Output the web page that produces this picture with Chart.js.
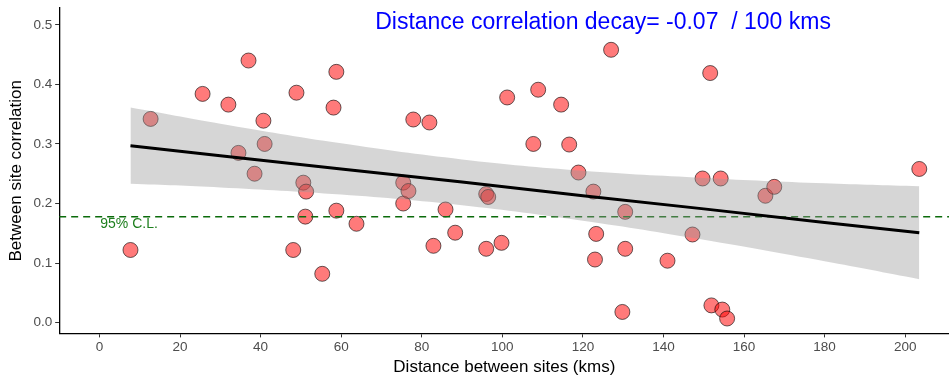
<!DOCTYPE html>
<html>
<head>
<meta charset="utf-8">
<script src="https://cdn.jsdelivr.net/npm/chart.js@4.4.1/dist/chart.umd.min.js"></script>
<style>
  html, body { margin: 0; padding: 0; background: #fff; }
  #wrap { width: 949px; height: 380px; overflow: hidden; }
  #chart { display: block; margin-top: -3px; }
</style>
</head>
<body>
<div id="wrap"><canvas id="chart" width="958" height="383"></canvas></div>
<script>
// distance between sites (kms) and between-site correlation
const distKms = [7.7, 12.7, 25.6, 32, 34.5, 37, 38.5, 40.7, 41, 48.1, 48.9, 50.6, 51.3, 51.1,
  55.3, 58.1, 58.8, 58.8, 63.8, 75.4, 75.4, 76.7, 77.9, 81.9, 82.9, 85.9, 88.3, 96, 96, 96.5,
  99.8, 101.2, 107.7, 108.9, 114.6, 116.6, 118.9, 127, 122.6, 123.3, 123, 129.8, 130.5, 130.5,
  141, 147.2, 149.7, 151.6, 151.9, 154.2, 154.6, 155.8, 165.3, 167.5, 203.5];
const siteCorr = [0.122, 0.342, 0.384, 0.366, 0.285, 0.44, 0.25, 0.339, 0.30, 0.122, 0.386, 0.235, 0.22, 0.178,
  0.082, 0.361, 0.421, 0.188, 0.166, 0.2, 0.235, 0.221, 0.341, 0.336, 0.129, 0.19, 0.151, 0.124, 0.216, 0.211,
  0.134, 0.378, 0.30, 0.391, 0.366, 0.299, 0.252, 0.458, 0.22, 0.149, 0.106, 0.018, 0.124, 0.186,
  0.104, 0.148, 0.242, 0.419, 0.029, 0.242, 0.022, 0.007, 0.213, 0.228, 0.258];

// linear fit and its confidence band
const fitX = [7.7, 30, 60, 90, 120, 150, 180, 203.5];
const fitY = [0.297, 0.280, 0.258, 0.236, 0.213, 0.191, 0.168, 0.151];
const bandUpper = [0.361, 0.334, 0.301, 0.274, 0.255, 0.243, 0.234, 0.229];
const bandLower = [0.233, 0.227, 0.215, 0.197, 0.171, 0.139, 0.103, 0.073];

// 95% confidence level threshold
const clLevel = 0.178;
const clRange = [-10, 211];

const xTicks = [0, 20, 40, 60, 80, 100, 120, 140, 160, 180, 200];
const yTicks = [0, 0.1, 0.2, 0.3, 0.4, 0.5];

const titleText = 'Distance correlation decay= -0.07  / 100 kms';
const clText = '95% C.L.';

const FONT = '"Liberation Sans", Arial, sans-serif';

const toXY = (xs, ys) => xs.map((x, i) => ({ x, y: ys[i] }));

const annotations = {
    id: 'annotations',
    afterDatasetsDraw(chart) {
        const { ctx, scales: { x, y } } = chart;
        ctx.save();
        ctx.font = '23px ' + FONT;
        ctx.fillStyle = '#0000FF';
        ctx.textAlign = 'center';
        ctx.textBaseline = 'middle';
        ctx.fillText(titleText, x.getPixelForValue(125), y.getPixelForValue(0.503));
        ctx.font = '14px ' + FONT;
        ctx.fillStyle = '#1E7F1E';
        ctx.textAlign = 'left';
        ctx.fillText(clText, x.getPixelForValue(0.2), y.getPixelForValue(0.166));
        ctx.restore();
    }
};

new Chart(document.getElementById('chart'), {
    type: 'scatter',
    data: {
        datasets: [
            {
                type: 'line',
                data: toXY(fitX, fitY),
                borderColor: '#000',
                borderWidth: 3,
                pointRadius: 0,
                fill: false,
                order: 0
            },
            {
                type: 'line',
                data: toXY(fitX, bandUpper),
                borderWidth: 0,
                borderColor: 'rgba(0,0,0,0)',
                backgroundColor: 'rgba(153,153,153,0.4)',
                pointRadius: 0,
                tension: 0.4,
                fill: '+1',
                order: 1
            },
            {
                type: 'line',
                data: toXY(fitX, bandLower),
                borderWidth: 0,
                borderColor: 'rgba(0,0,0,0)',
                pointRadius: 0,
                tension: 0.4,
                fill: false,
                order: 1
            },
            {
                type: 'line',
                data: toXY(clRange, [clLevel, clLevel]),
                borderColor: '#0B6B0B',
                borderWidth: 1.5,
                borderDash: [7, 5],
                pointRadius: 0,
                fill: false,
                order: 2
            },
            {
                data: toXY(distKms, siteCorr),
                backgroundColor: 'rgba(255,0,0,0.52)',
                borderColor: 'rgba(0,0,0,0.6)',
                borderWidth: 1,
                pointRadius: 7.5,
                order: 3
            }
        ]
    },
    options: {
        responsive: false,
        animation: false,
        layout: { padding: { left: 6, right: 0, top: 2, bottom: 2 } },
        plugins: {
            legend: { display: false },
            tooltip: { enabled: false }
        },
        scales: {
            x: {
                type: 'linear',
                min: -10,
                max: 211,
                afterBuildTicks: axis => { axis.ticks = xTicks.map(v => ({ value: v })); },
                grid: { drawOnChartArea: false, drawTicks: true, tickLength: 4, color: '#333' },
                border: { display: true, color: '#000', width: 1.3 },
                ticks: { color: '#4D4D4D', font: { family: FONT, size: 13.5 }, padding: 2, maxRotation: 0 },
                title: { display: true, text: 'Distance between sites (kms)', color: '#000',
                    font: { family: FONT, size: 17 }, padding: { top: 0, bottom: 0 } }
            },
            y: {
                type: 'linear',
                min: -0.018,
                max: 0.528,
                afterBuildTicks: axis => { axis.ticks = yTicks.map(v => ({ value: v })); },
                grid: { drawOnChartArea: false, drawTicks: true, tickLength: 4, color: '#333' },
                border: { display: true, color: '#000', width: 1.3 },
                ticks: { color: '#4D4D4D', font: { family: FONT, size: 13.5 }, padding: 3,
                    callback: v => v.toFixed(1) },
                title: { display: true, text: 'Between site correlation', color: '#000',
                    font: { family: FONT, size: 17 }, padding: { top: 0, bottom: 4 } }
            }
        }
    },
    plugins: [annotations]
});
</script>
</body>
</html>
